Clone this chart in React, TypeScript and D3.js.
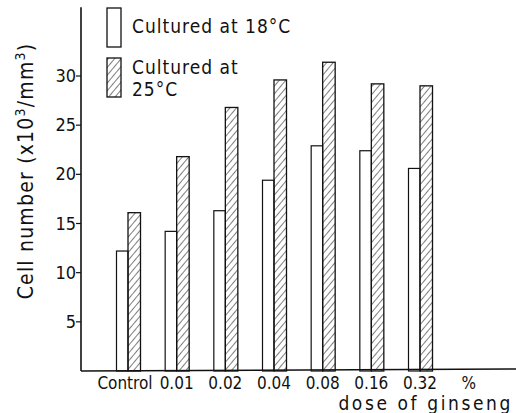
import React from "react";
import * as d3 from "d3";

const categories = ["Control", "0.01", "0.02", "0.04", "0.08", "0.16", "0.32"];
const at18 = [12.2, 14.2, 16.3, 19.4, 22.9, 22.4, 20.6];
const at25 = [16.1, 21.8, 26.8, 29.6, 31.4, 29.2, 29.0];
const yTicks = [5, 10, 15, 20, 25, 30];
const legendLabels = ["Cultured at 18°C", "Cultured at", "25°C"];

const W = 516;
const H = 413;
const FONT = "'DejaVu Sans Condensed', 'DejaVu Sans', sans-serif";
const INK = "#111";

export default function App() {
  const x = d3.scalePoint<string>().domain(categories).range([128, 420]);
  const step = x.step();
  const y = d3.scaleLinear().domain([0, 30]).range([371, 76]);
  const bw = 11.5;
  const axisX = 81;
  const baseY = y(0);

  return (
    <svg
      width={W}
      height={H}
      style={{ position: "absolute", left: 0, top: 0, background: "#fff" }}
      fontFamily={FONT}
    >
      <defs>
        <pattern id="hatch" patternUnits="userSpaceOnUse" width={5} height={5} patternTransform="rotate(40)">
          <line x1={0} y1={0} x2={0} y2={5} stroke={INK} strokeWidth={1.1} />
        </pattern>
      </defs>
      <rect x={0} y={0} width={W} height={H} fill="#fff" />

      {/* bars */}
      {categories.map((c, i) => {
        const cx = x(c) as number;
        return (
          <g key={c}>
            <rect x={cx - bw} y={y(at18[i])} width={bw} height={baseY - y(at18[i])} fill="#fff" stroke={INK} strokeWidth={1.2} />
            <rect x={cx} y={y(at25[i])} width={bw + 1} height={baseY - y(at25[i])} fill="url(#hatch)" stroke={INK} strokeWidth={1.3} />
          </g>
        );
      })}

      {/* axes */}
      <line x1={axisX} y1={y(37)} x2={axisX} y2={baseY} stroke={INK} strokeWidth={1.6} />
      <line x1={axisX} y1={baseY} x2={W} y2={baseY - 2} stroke={INK} strokeWidth={1.6} />
      {yTicks.map((t) => (
        <g key={t}>
          <line x1={axisX - 5} y1={y(t)} x2={axisX} y2={y(t)} stroke={INK} strokeWidth={1.2} />
          <text x={axisX - 5} y={y(t) + 6} textAnchor="end" fontSize={18} fill={INK}>
            {t}
          </text>
        </g>
      ))}

      {/* x labels */}
      {categories.map((c) => (
        <text key={c} x={(x(c) as number) + (c === "Control" ? -3 : 0)} y={389} textAnchor="middle" fontSize={17} fill={INK}>
          {c}
        </text>
      ))}
      <text x={(x(categories[categories.length - 1]) as number) + step} y={389} textAnchor="middle" fontSize={17} fill={INK}>
        %
      </text>
      <text x={513} y={410} textAnchor="end" fontSize={19} letterSpacing={2.6} fill={INK}>
        dose of ginseng
      </text>

      {/* y label */}
      <text transform="translate(33,171) rotate(-90)" textAnchor="middle" fontSize={21} letterSpacing={1.2} fill={INK}>
        Cell number (x10<tspan dy={-8} fontSize={14}>3</tspan>
        <tspan dy={8}>/mm</tspan>
        <tspan dy={-8} fontSize={14}>3</tspan>
        <tspan dy={8}>)</tspan>
      </text>

      {/* legend */}
      <rect x={107} y={8} width={14} height={39} fill="#fff" stroke={INK} strokeWidth={1.3} />
      <rect x={107} y={58} width={14} height={39} fill="url(#hatch)" stroke={INK} strokeWidth={1.3} />
      <text x={132} y={33} fontSize={19} letterSpacing={1} fill={INK}>{legendLabels[0]}</text>
      <text x={132} y={74} fontSize={19} letterSpacing={1} fill={INK}>{legendLabels[1]}</text>
      <text x={132} y={96} fontSize={19} letterSpacing={1} fill={INK}>{legendLabels[2]}</text>
    </svg>
  );
}
